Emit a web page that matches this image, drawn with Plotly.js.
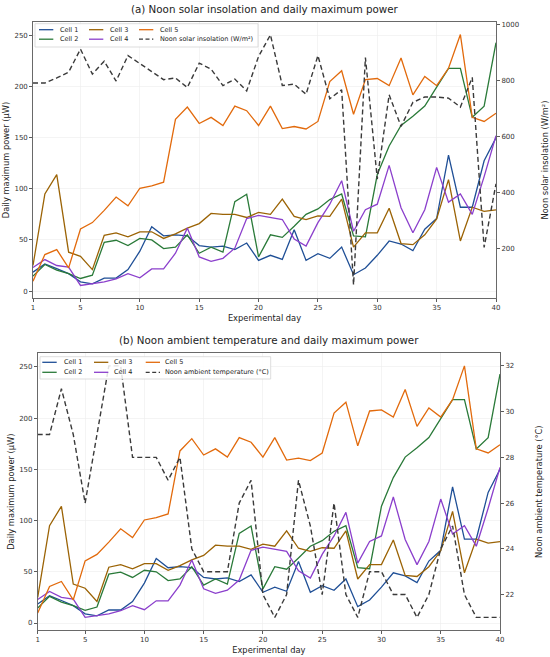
<!DOCTYPE html>
<html>
<head>
<meta charset="utf-8">
<script src="https://cdn.plot.ly/plotly-3.0.1.min.js"></script>
<style>
html,body{margin:0;padding:0;background:#ffffff;}
#chart{width:550px;height:657px;}
</style>
</head>
<body>
<div id="chart"></div>
<script>
// ---------------- data ----------------
const days = [1,2,3,4,5,6,7,8,9,10,11,12,13,14,15,16,17,18,19,20,21,22,23,24,25,26,27,28,29,30,31,32,33,34,35,36,37,38,39,40];

const cell1 = [18.5,26.6,22,17,9,7,12.7,12.7,21,39,63,54,55,54,44.5,43,44,40.5,47,30,35,31,60,30,36.5,32,43,16,22.5,35,49,46,39.5,60.5,71,133,82,82,127.5,150];
const cell2 = [14.6,26,20.5,17,12.3,15.6,47.7,49.7,44.5,51.5,50,41.5,43,55,37,43,38,87.5,94.7,33.4,55,52.5,63.5,75,80.4,89.5,95,54,53,114,142,162,171,181,199.5,218,218,170,181,243];
const cell3 = [25,95,114,38,34,21,54.5,57,53,58,58,51.5,56,61.6,66,76,75,75,72,77,75,90,73,70,73.5,73,90,43,57,57,81,46.5,45.4,55,70.5,109,49,82,78,79.5];
const cell4 = [23,30.8,25,23.4,5.5,7,9,12,17,13,21.7,21.7,37,61.6,33.4,29,32,42,71,74,72,70,51,44,67,85,108,58.5,79.6,85,123,81.5,57,79.6,121,87,95,75,112,152];
const cell5 = [9.7,35.7,40.6,22.7,60.7,67,79,92,83.4,100.6,103,106.5,168,180,164,170,162,181,176.5,162,181,159,161,158.6,166,205,215.6,173,207,208,201,228,192,210,201,218,251,170,166,174];

const solarInsolation = [792,792,810,831,913,824,870,799,890,863,833,804,810,776,863,842,783,806,764,887,964,783,788,752,890,736,768,71,883,449,750,637,723,742,742,738,706,812,205,432];
const ambientTemp = [29,29,31,29,26,29,32,32,28,28,28,27,28,24,23,23,23,26,27,22,21,22,27,25,22,26,22,21,23,23,22,22,21,22,24,25,22,21,21,21];

const cellNames = ['Cell 1','Cell 2','Cell 3','Cell 4','Cell 5'];
const cellSeries = [cell1, cell2, cell3, cell4, cell5];

const xTicks = [1,5,10,15,20,25,30,35,40];
const powerTicks = [0,50,100,150,200,250];
const solarTicks = [200,400,600,800,1000];
const tempTicks = [22,24,26,28,30,32];

const titleA = '(a) Noon solar insolation and daily maximum power';
const titleB = '(b) Noon ambient temperature and daily maximum power';
const solarName = 'Noon solar insolation (W/m²)';
const tempName = 'Noon ambient temperature (°C)';
const powerTitle = 'Daily maximum power (µW)';
const dayTitle = 'Experimental day';

// ---------------- styles ----------------
const cellColors = ['#1f4f96','#2a7a39','#9b6305','#8b3fcc','#e26a0c'];
const dashColor = '#3a3a3a';
const FONT = 'DejaVu Sans, Liberation Sans, sans-serif';
const W = 550, H = 657;
const px = v => v / W;
const py = v => 1 - v / H;

const panels = [
  { left:33, right:496, top:22, bottom:298, xa:'x', ya:'y', yb:'y2',
    dashData: solarInsolation, dashName: solarName, rightRange:[24,1010], rightTicks: solarTicks,
    title: titleA, titleY: 9, rightStandoff: 26,
    legend: { box:[35,23.7,258,47], rows:[29.7,39.2], lines:[[39,53.3],[89,103.3],[139,153.3]], text:[58,108,158] } },
  { left:37.7, right:500, top:353.3, bottom:630, xa:'x2', ya:'y3', yb:'y4',
    dashData: ambientTemp, dashName: tempName, rightRange:[20.45,32.55], rightTicks: tempTicks,
    title: titleB, titleY: 340, rightStandoff: 22,
    legend: { box:[40,356.7,270.7,379], rows:[362.3,372.3], lines:[[42.3,56.7],[94,108.3],[145.7,160]], text:[62.3,112.3,163.3] } }
];

const traces = [];
const shapes = [];
const annotations = [];
const layout = {
  width: W, height: H,
  margin: {l:0, r:0, t:0, b:0},
  paper_bgcolor: '#ffffff', plot_bgcolor: '#ffffff',
  font: {family: FONT, color: '#222222', size: 7},
  showlegend: false
};

function axisKey(id){ return id.length === 1 ? id + 'axis' : id[0] + 'axis' + id.slice(1); }

const baseAxis = {
  ticks: 'outside', ticklen: 3, tickwidth: 0.8, tickcolor: '#333333',
  tickfont: {family: FONT, size: 7, color: '#333333'},
  showline: true, linecolor: '#444444', linewidth: 0.8,
  zeroline: false
};

panels.forEach((p, pi) => {
  // cell lines
  cellSeries.forEach((s, i) => {
    traces.push({
      type: 'scatter', mode: 'lines', x: days, y: s, name: cellNames[i],
      xaxis: p.xa, yaxis: p.ya,
      line: {color: cellColors[i], width: 1.3}
    });
  });
  // dashed environmental line
  traces.push({
    type: 'scatter', mode: 'lines', x: days, y: p.dashData, name: p.dashName,
    xaxis: p.xa, yaxis: p.yb,
    line: {color: dashColor, width: 1.4, dash: '5px,3px'}
  });

  layout[axisKey(p.xa)] = Object.assign({}, baseAxis, {
    domain: [px(p.left), px(p.right)], anchor: p.ya,
    range: [1, 40], tickmode: 'array', tickvals: xTicks,
    mirror: true, showgrid: true, gridcolor: '#ececec', gridwidth: 0.6,
    title: {text: dayTitle, font: {family: FONT, size: 8.3, color: '#222222'}, standoff: 3}
  });
  layout[axisKey(p.ya)] = Object.assign({}, baseAxis, {
    domain: [py(p.bottom), py(p.top)], anchor: p.xa,
    range: [-6.8, 263.3], tickmode: 'array', tickvals: powerTicks,
    mirror: true, showgrid: true, gridcolor: '#ececec', gridwidth: 0.6,
    title: {text: powerTitle, font: {family: FONT, size: 8.3, color: '#222222'}, standoff: 3}
  });
  layout[axisKey(p.yb)] = Object.assign({}, baseAxis, {
    overlaying: p.ya, side: 'right', anchor: p.xa,
    range: p.rightRange, tickmode: 'array', tickvals: p.rightTicks,
    showline: false, showgrid: false,
    title: {text: p.dashName, font: {family: FONT, size: 8.3, color: '#222222'}, standoff: p.rightStandoff}
  });

  // subplot title
  annotations.push({
    xref: 'paper', yref: 'paper', x: px((p.left + p.right) / 2), y: py(p.titleY),
    xanchor: 'center', yanchor: 'middle', showarrow: false,
    text: p.title, font: {family: FONT, size: 10.3, color: '#222222'}
  });

  // legend (3 columns, column-major like the original)
  const L = p.legend;
  const b = L.box;
  shapes.push({
    type: 'rect', xref: 'paper', yref: 'paper',
    x0: px(b[0]), x1: px(b[2]), y0: py(b[3]), y1: py(b[1]),
    fillcolor: 'rgba(255,255,255,0.85)', line: {color: '#d4d4d4', width: 0.8}, layer: 'above'
  });
  const entries = [
    {name: cellNames[0], color: cellColors[0], dash: 'solid', col: 0, row: 0},
    {name: cellNames[1], color: cellColors[1], dash: 'solid', col: 0, row: 1},
    {name: cellNames[2], color: cellColors[2], dash: 'solid', col: 1, row: 0},
    {name: cellNames[3], color: cellColors[3], dash: 'solid', col: 1, row: 1},
    {name: cellNames[4], color: cellColors[4], dash: 'solid', col: 2, row: 0},
    {name: p.dashName, color: dashColor, dash: '4px,2.5px', col: 2, row: 1}
  ];
  entries.forEach(e => {
    const yy = py(L.rows[e.row]);
    shapes.push({
      type: 'line', xref: 'paper', yref: 'paper',
      x0: px(L.lines[e.col][0]), x1: px(L.lines[e.col][1]), y0: yy, y1: yy,
      line: {color: e.color, width: 1.3, dash: e.dash}, layer: 'above'
    });
    annotations.push({
      xref: 'paper', yref: 'paper', x: px(L.text[e.col]), y: yy,
      xanchor: 'left', yanchor: 'middle', showarrow: false,
      text: e.name, font: {family: FONT, size: 6.5, color: '#222222'}
    });
  });
});

layout.shapes = shapes;
layout.annotations = annotations;

Plotly.newPlot('chart', traces, layout, {displayModeBar: false, staticPlot: true});
</script>
</body>
</html>
